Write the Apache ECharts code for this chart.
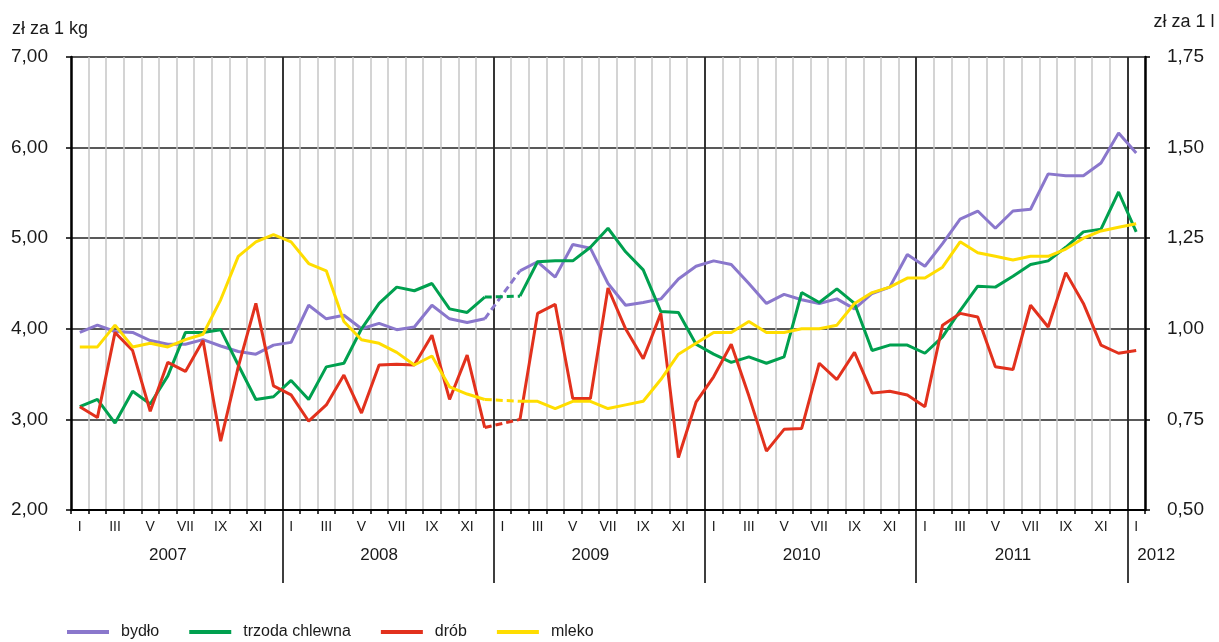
<!DOCTYPE html>
<html>
<head>
<meta charset="utf-8">
<script src="https://cdn.jsdelivr.net/npm/echarts@6/dist/echarts.min.js"></script>
<style>
  html, body { margin: 0; padding: 0; background: #fff; }
  #chart { width: 1219px; height: 642px; }
</style>
</head>
<body>
<div id="chart"></div>
<script>
// osie
const years = ['2007', '2008', '2009', '2010', '2011', '2012'];
const monthNames = ['I', 'II', 'III', 'IV', 'V', 'VI', 'VII', 'VIII', 'IX', 'X', 'XI', 'XII'];

// ceny skupu, I 2007 – I 2012 (styczeń 2009 – brak danych)
const bydlo = [
  3.96, 4.04, 3.97, 3.96, 3.87, 3.83, 3.83, 3.88, 3.81, 3.75, 3.72, 3.82,
  3.85, 4.26, 4.11, 4.15, 4.00, 4.06, 3.99, 4.02, 4.26, 4.11, 4.07, 4.11,
  null, 4.64, 4.74, 4.57, 4.93, 4.89, 4.50, 4.26, 4.29, 4.33, 4.55, 4.69,
  4.75, 4.71, 4.50, 4.28, 4.38, 4.32, 4.28, 4.33, 4.22, 4.39, 4.46, 4.82,
  4.69, 4.94, 5.21, 5.30, 5.11, 5.30, 5.32, 5.71, 5.69, 5.69, 5.83, 6.16,
  5.94
];
const trzoda = [
  3.14, 3.22, 2.96, 3.31, 3.17, 3.48, 3.96, 3.96, 3.99, 3.60, 3.22, 3.25,
  3.43, 3.22, 3.58, 3.62, 4.00, 4.28, 4.46, 4.42, 4.50, 4.22, 4.18, 4.35,
  null, 4.36, 4.74, 4.75, 4.75, 4.90, 5.11, 4.85, 4.65, 4.19, 4.18, 3.83,
  3.72, 3.63, 3.69, 3.62, 3.69, 4.40, 4.29, 4.44, 4.28, 3.76, 3.82, 3.82,
  3.73, 3.91, 4.20, 4.47, 4.46, 4.58, 4.71, 4.75, 4.90, 5.07, 5.10, 5.51,
  5.07
];
const drob = [
  3.14, 3.02, 3.96, 3.76, 3.09, 3.63, 3.53, 3.87, 2.76, 3.58, 4.28, 3.37,
  3.27, 2.98, 3.16, 3.49, 3.07, 3.60, 3.61, 3.60, 3.93, 3.22, 3.71, 2.91,
  null, 3.00, 4.17, 4.27, 3.23, 3.23, 4.45, 4.00, 3.67, 4.17, 2.58, 3.19,
  3.47, 3.83, 3.26, 2.65, 2.89, 2.90, 3.62, 3.44, 3.74, 3.29, 3.31, 3.27,
  3.14, 4.04, 4.17, 4.13, 3.58, 3.55, 4.26, 4.02, 4.62, 4.28, 3.82, 3.73,
  3.76
];
// zł za 1 l (prawa oś)
const mleko = [
  0.95, 0.95, 1.01, 0.95, 0.96, 0.95, 0.97, 0.985, 1.08, 1.20, 1.24, 1.26,
  1.24, 1.18, 1.16, 1.02, 0.97, 0.96, 0.935, 0.90, 0.925, 0.84, 0.82, 0.805,
  null, 0.80, 0.80, 0.78, 0.80, 0.80, 0.78, 0.79, 0.80, 0.86, 0.93, 0.96,
  0.99, 0.99, 1.02, 0.99, 0.99, 1.00, 1.00, 1.01, 1.07, 1.10, 1.115, 1.14,
  1.14, 1.17, 1.24, 1.21, 1.20, 1.19, 1.20, 1.20, 1.22, 1.25, 1.27, 1.28,
  1.29
];

const seriesNames = ['bydło', 'trzoda chlewna', 'drób', 'mleko'];
const seriesColors = ['#8a77cc', '#00a04f', '#e2311d', '#ffdd00'];

const months = [];
years.forEach(y => monthNames.forEach(m => months.push(m + ' ' + y)));
months.length = bydlo.length;

const gapIdx = bydlo.indexOf(null);
const yearStarts = years.slice(1).map((y, k) => (k + 1) * 12);

// przerywany odcinek nad brakującym miesiącem
function bridge(arr) {
  return arr.map((v, i) => (i === gapIdx - 1 || i === gapIdx + 1) ? v : null);
}

const fmt = v => v.toFixed(2).replace('.', ',');
const TXT = '#1a1a1a';

const chart = echarts.init(document.getElementById('chart'));

const dataSets = [bydlo, trzoda, drob, mleko];

const lineSeries = dataSets.map((d, k) => ({
  name: seriesNames[k],
  type: 'line',
  yAxisIndex: k === 3 ? 1 : 0,
  data: d,
  symbol: 'none',
  connectNulls: false,
  lineStyle: { color: seriesColors[k], width: 3 },
  itemStyle: { color: seriesColors[k] },
  z: 3
}));

const bridgeSeries = dataSets.map((d, k) => ({
  name: seriesNames[k] + ' (luka)',
  type: 'line',
  yAxisIndex: k === 3 ? 1 : 0,
  data: bridge(d),
  symbol: 'none',
  connectNulls: true,
  lineStyle: { color: seriesColors[k], width: 3, type: [7, 4] },
  itemStyle: { color: seriesColors[k] },
  z: 3
}));

const option = {
  animation: false,
  textStyle: { fontFamily: 'Liberation Sans, Arial, sans-serif' },
  grid: { left: 71, right: 74, top: 57, bottom: 132 },
  legend: {
    data: seriesNames,
    left: 62,
    top: 619,
    icon: 'rect',
    itemWidth: 42,
    itemHeight: 4,
    itemGap: 30,
    textStyle: { fontSize: 16, color: TXT, padding: [0, 0, 0, 7] }
  },
  xAxis: [
    {
      type: 'category',
      data: months,
      position: 'bottom',
      boundaryGap: true,
      axisLine: { lineStyle: { color: '#000', width: 2 } },
      axisTick: { show: true, interval: 0, length: 4, lineStyle: { color: '#000', width: 1.5 } },
      axisLabel: {
        interval: 1, margin: 10, fontSize: 14, color: TXT,
        formatter: v => v.split(' ')[0]
      },
      splitLine: { show: true, interval: 0, lineStyle: { color: '#c6c6c6', width: 1.5 } }
    },
    {
      type: 'category',
      data: months,
      position: 'bottom',
      axisLine: { show: false },
      axisTick: { show: false },
      splitLine: { show: false },
      axisLabel: {
        interval: 0, margin: 37, fontSize: 17, color: TXT,
        formatter: (v, i) => {
          if (i === months.length - 1) return '{last|' + v.split(' ')[1] + '}';
          return i % 12 === 5 ? v.split(' ')[1] : '';
        },
        rich: { last: { fontSize: 17, color: TXT, padding: [0, 0, 0, 40] } }
      }
    },
    {
      type: 'value',
      min: 0,
      max: months.length,
      interval: 12,
      position: 'bottom',
      axisLine: { show: false },
      axisLabel: { show: false },
      axisTick: { show: true, customValues: yearStarts, length: 73, lineStyle: { color: '#000', width: 1.5 } },
      splitLine: { show: true, lineStyle: { color: '#000', width: 1.5 } }
    }
  ],
  yAxis: [
    {
      type: 'value',
      min: 2,
      max: 7,
      interval: 1,
      name: 'zł za 1 kg',
      nameLocation: 'end',
      nameGap: 19,
      nameTextStyle: { fontSize: 18, color: TXT, align: 'center', padding: [0, 42, 0, 0] },
      axisLine: { show: true, lineStyle: { color: '#000', width: 2.5 } },
      axisTick: { show: true, length: 5, lineStyle: { color: '#000', width: 1.5 } },
      axisLabel: { fontSize: 19, color: TXT, margin: 23, formatter: fmt },
      splitLine: { show: true, lineStyle: { color: '#222', width: 1.5 } }
    },
    {
      type: 'value',
      min: 0.5,
      max: 1.75,
      interval: 0.25,
      position: 'right',
      name: 'zł za 1 l',
      nameLocation: 'end',
      nameGap: 26,
      nameTextStyle: { fontSize: 18, color: TXT, align: 'center', padding: [0, 0, 0, 78] },
      axisLine: { show: true, lineStyle: { color: '#000', width: 2.5 } },
      axisTick: { show: true, length: 5, lineStyle: { color: '#000', width: 1.5 } },
      axisLabel: { fontSize: 19, color: TXT, margin: 22, formatter: fmt },
      splitLine: { show: false }
    }
  ],
  series: lineSeries.concat(bridgeSeries)
};

chart.setOption(option);
</script>
</body>
</html>
